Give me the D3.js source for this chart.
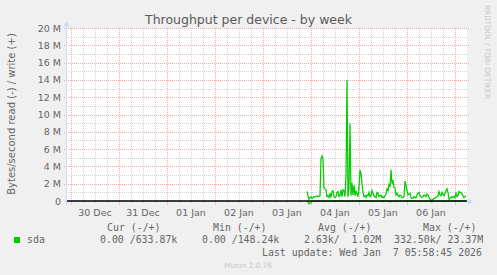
<!DOCTYPE html>
<html>
<head>
<meta charset="utf-8">
<script src="https://cdn.jsdelivr.net/npm/d3@7"></script>
<style>
  html, body { margin: 0; padding: 0; background: #f0f0f0; }
  svg { display: block; }
  text { white-space: pre; }
</style>
</head>
<body>
<svg id="chart"></svg>
<script>
"use strict";

// write (+) in M bytes/s, one sample every 30 minutes from 03 Jan 22:00
const writeValues = [
  1.1, 0.6, 0.2, 0.4, 0.5, 0.3, 0.4, 0.5, 0.5, 0.5, 0.6, 0.5, 0.5, 0.6, 4.9, 5.2,
  4.8, 1.5, 1.4, 1.3, 0.5, 0.6, 0.4, 0.9, 0.4, 1.1, 1.2, 0.5, 0.4, 0.5, 1.0, 1.1,
  0.5, 0.6, 1.3, 0.5, 1.3, 1.2, 0.5, 3.0, 14.0, 0.5, 1.5, 9.0, 0.6, 2.1, 0.7, 1.8,
  0.6, 1.2, 0.8, 0.5, 1.6, 3.6, 3.2, 2.0, 1.0, 0.5, 0.6, 0.4, 0.7, 0.6, 1.0, 0.5,
  0.6, 1.2, 0.9, 0.6, 0.5, 0.4, 1.0, 0.9, 0.5, 0.6, 0.7, 0.4, 0.5, 0.4, 0.6, 0.8,
  1.4, 1.2, 2.0, 1.6, 3.6, 2.0, 2.4, 1.6, 1.5, 0.7, 0.9, 0.6, 0.5, 0.7, 0.6, 0.4,
  0.4, 0.5, 2.3, 1.8, 1.2, 0.7, 0.8, 0.9, 0.4, 0.3, 0.3, 0.5, 0.4, 0.4, 0.7, 0.9,
  1.0, 0.6, 0.5, 0.4, 0.5, 0.7, 0.6, 0.5, 0.8, 0.7, 0.4, 0.2, 0.1, 0.1, 0.2, 0.3,
  0.3, 0.4, 0.5, 0.6, 1.1, 0.7, 0.6, 1.0, 0.8, 0.6, 0.9, 1.2, 1.4, 1.0, 0.2, 0.3,
  0.4, 0.5, 0.4, 0.5, 0.4, 0.9, 0.5, 0.6, 1.1, 1.0, 1.0, 0.8, 0.6, 0.4, 0.5, 0.6
];
// read (-) in M bytes/s, same samples, mostly zero
const readValues = [
  0, 0, 0.33, 0.25, 0.2, 0.1, 0, 0, 0, 0, 0, 0, 0, 0, 0, 0,
  0, 0, 0, 0, 0, 0, 0, 0, 0, 0, 0, 0, 0, 0, 0, 0,
  0, 0, 0, 0, 0, 0, 0, 0, 0, 0, 0, 0, 0, 0, 0, 0,
  0, 0, 0, 0, 0, 0, 0, 0, 0, 0, 0, 0, 0, 0, 0, 0,
  0, 0, 0, 0, 0, 0, 0, 0, 0, 0, 0, 0, 0, 0, 0, 0,
  0, 0, 0, 0.1, 0, 0, 0, 0, 0, 0, 0, 0, 0, 0, 0, 0,
  0, 0, 0, 0, 0, 0, 0, 0, 0, 0, 0, 0, 0, 0, 0, 0,
  0, 0, 0, 0, 0, 0, 0, 0, 0, 0, 0, 0, 0, 0.1, 0, 0,
  0, 0, 0, 0, 0, 0, 0, 0, 0, 0, 0, 0, 0, 0, 0, 0,
  0, 0, 0, 0, 0, 0, 0, 0, 0, 0, 0, 0, 0, 0, 0, 0
];
const dataStart = Date.UTC(2026, 0, 3, 22, 0);
const stepMs = 30 * 60 * 1000;

const viewStart = new Date(Date.UTC(2025, 11, 29, 22, 0));
const viewEnd = new Date(Date.UTC(2026, 0, 7, 6, 0));

const yTicks = [0, 2, 4, 6, 8, 10, 12, 14, 16, 18, 20];

const legendHeaders = ["Cur (-/+)", "Min (-/+)", "Avg (-/+)", "Max (-/+)"];
const legendValues = ["0.00 /633.87k", "0.00 /148.24k", "2.63k/  1.02M", "332.50k/ 23.37M"];
const seriesName = "sda";
const lastUpdate = "Last update: Wed Jan  7 05:58:45 2026";

const W = 497, H = 275;
const plot = { left: 67, right: 467, top: 28, bottom: 202.3 };
const FONT_C = "#666666";
const AXIS_C = "#cfd6f8";
const GRID_C = "#d2d2d2";
const MGRID_C = "#eeaaaa";

const svg = d3.select("#chart").attr("width", W).attr("height", H);
svg.append("rect").attr("width", W).attr("height", H).attr("fill", "#f0f0f0");
svg.append("rect")
  .attr("x", plot.left).attr("y", plot.top)
  .attr("width", plot.right - plot.left).attr("height", plot.bottom - plot.top)
  .attr("fill", "#ffffff");

const x = d3.scaleUtc().domain([viewStart, viewEnd]).range([plot.left, plot.right]);
const y = d3.scaleLinear().domain([-0.15, 20]).range([plot.bottom, plot.top]);

// dotted patterns, one pixel on, one off
const defs = svg.append("defs");
function dots(id, color, horizontal) {
  let p = defs.append("pattern")
    .attr("id", id)
    .attr("patternUnits", "userSpaceOnUse")
    .attr("width", horizontal ? 2 : 1)
    .attr("height", horizontal ? 1 : 2);
  p.append("rect").attr("width", 1).attr("height", 1).attr("fill", color);
}
dots("hgrid", GRID_C, true);
dots("vgrid", GRID_C, false);
dots("hmgrid", MGRID_C, true);
dots("vmgrid", MGRID_C, false);

const grid = svg.append("g").attr("shape-rendering", "crispEdges");
function hline(v, x0, x1, pat) {
  grid.append("rect")
    .attr("x", x0).attr("y", Math.round(y(v)))
    .attr("width", x1 - x0).attr("height", 1)
    .attr("fill", `url(#${pat})`);
}
function vline(t, y0, y1, pat) {
  grid.append("rect")
    .attr("x", Math.round(x(t))).attr("y", y0)
    .attr("width", 1).attr("height", y1 - y0)
    .attr("fill", `url(#${pat})`);
}

// minor grid: every 1M and every 6h
d3.range(1, 20, 2).forEach(v => hline(v, plot.left - 2, plot.right, "hgrid"));
d3.utcHour.every(6).range(viewStart, viewEnd).forEach(function(t) {
  if (t.getUTCHours() !== 0) vline(t, plot.top, plot.bottom + 2, "vgrid");
});
// major grid: every 2M and every day
yTicks.forEach(v => hline(v, plot.left - 4, plot.right + 2, "hmgrid"));
const days = d3.utcDay.range(viewStart, viewEnd);
days.forEach(t => vline(t, plot.top, plot.bottom + 3, "vmgrid"));

// axes
const axis = svg.append("g").attr("shape-rendering", "crispEdges");
axis.append("line")
  .attr("x1", plot.left - 0.5).attr("x2", plot.left - 0.5)
  .attr("y1", 25).attr("y2", plot.bottom + 3)
  .attr("stroke", AXIS_C);
axis.append("line")
  .attr("x1", plot.left - 3).attr("x2", plot.right + 2)
  .attr("y1", Math.round(plot.bottom) - 0.5).attr("y2", Math.round(plot.bottom) - 0.5)
  .attr("stroke", AXIS_C);
svg.append("path")
  .attr("d", `M${plot.left - 3.5},26.5 L${plot.left - 0.5},21.5 L${plot.left + 2.5},26.5 Z`)
  .attr("fill", AXIS_C);
let by = Math.round(plot.bottom) - 0.5;
svg.append("path")
  .attr("d", `M${plot.right + 1},${by - 3} L${plot.right + 6},${by} L${plot.right + 1},${by + 3} Z`)
  .attr("fill", AXIS_C);

// y tick labels
svg.append("g").selectAll("text")
  .data(yTicks)
  .join("text")
  .attr("x", 61)
  .attr("y", d => y(d) + 3.5)
  .attr("text-anchor", "end")
  .attr("font-family", "DejaVu Sans")
  .attr("font-size", 9.5)
  .attr("fill", FONT_C)
  .text(d => d === 0 ? "0" : d + " M");

// x tick labels at noon
const fmt = d3.utcFormat("%d %b");
svg.append("g").selectAll("text")
  .data(days.map(d => d3.utcHour.offset(d, -12)).concat([d3.utcHour.offset(days[days.length - 1], 12)])
    .filter(t => x(t) > plot.left + 10 && x(t) < plot.right - 10))
  .join("text")
  .attr("x", d => x(d))
  .attr("y", 216)
  .attr("text-anchor", "middle")
  .attr("font-family", "DejaVu Sans")
  .attr("font-size", 9.5)
  .attr("fill", FONT_C)
  .text(d => fmt(d));

// data lines
const times = writeValues.map((v, i) => new Date(dataStart + i * stepMs));
const line = d3.line().x((d, i) => x(times[i])).y(d => y(d));
svg.append("path")
  .datum(writeValues)
  .attr("d", line)
  .attr("fill", "none")
  .attr("stroke", "#00cc00")
  .attr("stroke-width", 1.25);
svg.append("path")
  .datum(readValues.map(v => -v))
  .attr("d", line)
  .attr("fill", "none")
  .attr("stroke", "#00cc00")
  .attr("stroke-width", 1.25);

// zero rule
svg.append("line")
  .attr("x1", plot.left).attr("x2", plot.right)
  .attr("y1", y(0)).attr("y2", y(0))
  .attr("stroke", "#000000").attr("stroke-width", 1.4);

// title
svg.append("text")
  .attr("x", 248.5).attr("y", 24)
  .attr("text-anchor", "middle")
  .attr("font-family", "DejaVu Sans")
  .attr("font-size", 12.5)
  .attr("fill", "#5a5a5a")
  .text("Throughput per device - by week");

// y label
svg.append("text")
  .attr("transform", "translate(15,114) rotate(-90)")
  .attr("text-anchor", "middle")
  .attr("font-family", "DejaVu Sans")
  .attr("font-size", 10)
  .attr("fill", FONT_C)
  .text("Bytes/second read (-) / write (+)");

// watermark
svg.append("text")
  .attr("transform", "translate(484.5,5) rotate(90)")
  .attr("text-anchor", "start")
  .attr("font-family", "DejaVu Sans")
  .attr("font-size", 7.3)
  .attr("fill", "#c8c8c8")
  .text("RRDTOOL / TOBI OETIKER");

// legend
const mono = "DejaVu Sans Mono";
const headerX = [107, 213, 318, 423];
const valueX = [100, 202, 304, 394];
legendHeaders.forEach(function(h, i) {
  svg.append("text")
    .attr("x", headerX[i]).attr("y", 230.5)
    .attr("font-family", mono).attr("font-size", 9.9)
    .attr("fill", FONT_C).text(h);
});
legendValues.forEach(function(v, i) {
  svg.append("text")
    .attr("x", valueX[i]).attr("y", 243)
    .attr("font-family", mono).attr("font-size", 9.9)
    .attr("fill", FONT_C).text(v);
});
svg.append("rect")
  .attr("x", 14).attr("y", 237).attr("width", 6).attr("height", 6)
  .attr("fill", "#00cc00");
svg.append("text")
  .attr("x", 27).attr("y", 243)
  .attr("font-family", mono).attr("font-size", 9.9)
  .attr("fill", FONT_C).text(seriesName);
svg.append("text")
  .attr("x", 482).attr("y", 255.5)
  .attr("text-anchor", "end")
  .attr("font-family", mono).attr("font-size", 9.9)
  .attr("fill", FONT_C).text(lastUpdate);
svg.append("text")
  .attr("x", 248).attr("y", 267.5)
  .attr("text-anchor", "middle")
  .attr("font-family", "DejaVu Sans")
  .attr("font-size", 7.3)
  .attr("fill", "#c8c8c8")
  .text("Munin 2.0.76");
</script>
</body>
</html>
